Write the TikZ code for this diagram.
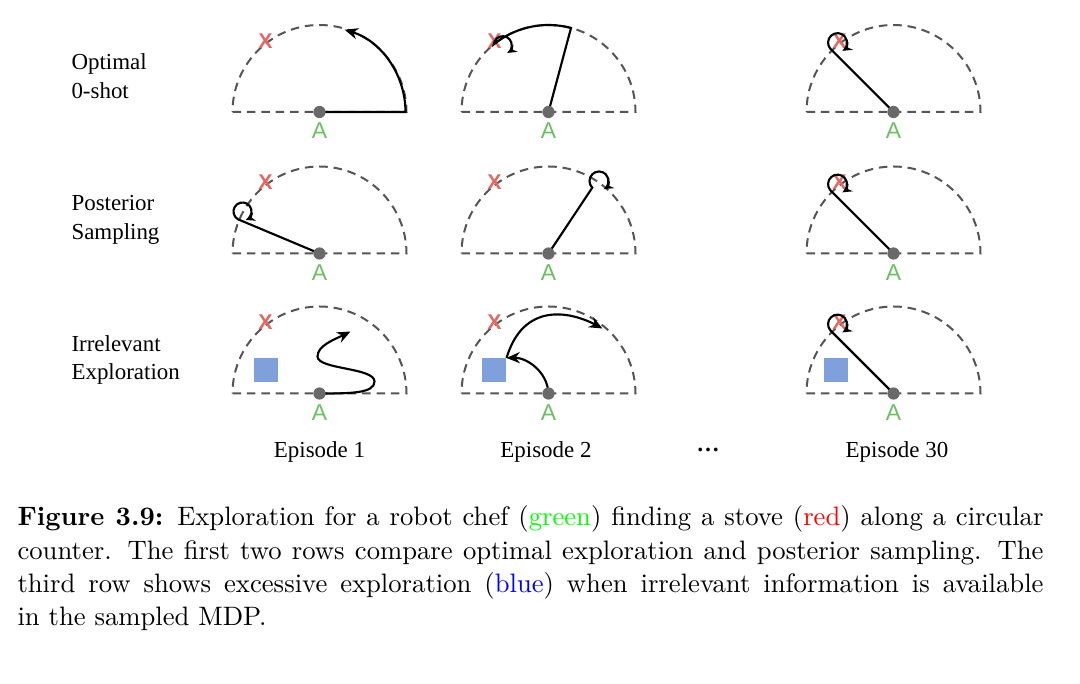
\documentclass[tikz,border=0pt]{standalone}
\usepackage{fontspec}
\usepackage{xcolor}
\usetikzlibrary{arrows.meta}
\newfontfamily\timesf{Liberation Serif}
\newfontfamily\arialf{Liberation Sans}
\definecolor{dashgrey}{RGB}{85,85,85}
\definecolor{dotgrey}{RGB}{105,105,105}
\definecolor{agreen}{RGB}{110,190,100}
\definecolor{xred}{RGB}{225,105,100}
\definecolor{sqblue}{RGB}{128,160,220}
\tikzset{
 rim/.style={draw=dashgrey, line width=0.75pt, dash pattern=on 3.2pt off 2.2pt},
 trail/.style={draw=black, line width=0.8pt, -{Stealth[length=5pt,width=4.2pt]}},
 looptrail/.style={draw=black, line width=0.8pt, -{Stealth[length=3.6pt,width=3.2pt]}},
 agent/.style={circle, fill=dotgrey, inner sep=0pt, minimum size=4.6pt},
 alabel/.style={font=\arialf\fontsize{8.6}{10}\selectfont, text=agreen, inner sep=0pt},
 xlabel/.style={font=\arialf\bfseries\fontsize{8}{10}\selectfont, text=xred, inner sep=0pt},
 crate/.style={fill=sqblue, minimum size=9pt, inner sep=0pt},
 rowlab/.style={font=\timesf\fontsize{8.6}{10.9}\selectfont, anchor=base west, inner sep=0pt},
 eplab/.style={font=\timesf\fontsize{8.6}{10.9}\selectfont, anchor=base, inner sep=0pt},
 capline/.style={anchor=base west, inner sep=0pt, font=\fontsize{10}{12.5}\selectfont},
}
\newcommand\panelbase[1]{%
 \draw[rim] (-87,0) -- (87,0) arc[start angle=0,end angle=180,radius=87];
 \node[xlabel] (x#1) at (-54,71) {X};
 \coordinate (a#1) at (0,0);
}
\newcommand\paneltop[1]{%
 \node[agent] (d#1) at (a#1) {};
 \node[alabel] (A#1) at (0,-19) {A};
}
\begin{document}
\begin{tikzpicture}[x=0.375pt,y=-0.375pt]
\useasboundingbox[fill=white] (0,0) rectangle (1080,684);

% row labels
\node[rowlab] (r1a) at (71,70) {Optimal};
\node[rowlab] (r1b) at (71,99) {0-shot};
\node[rowlab] (r2a) at (71,211) {Posterior};
\node[rowlab] (r2b) at (71,240) {Sampling};
\node[rowlab] (r3a) at (71,352) {Irrelevant};
\node[rowlab] (r3b) at (71,380) {Exploration};

% row 1
\begin{scope}[shift={(319.5,112)},yscale=-1]
 \panelbase{11}
 \draw[trail] (a11) -- (86,0) arc[start angle=0,end angle=73,radius=86];
 \paneltop{11}
\end{scope}
\begin{scope}[shift={(548.5,112)},yscale=-1]
 \panelbase{12}
 \coordinate (t12) at (75:87);
 \draw[looptrail] (a12) -- (t12) arc[start angle=75,end angle=129,radius=87]
   arc[start angle=175,end angle=-60,radius=9];
 \paneltop{12}
\end{scope}
\begin{scope}[shift={(893.5,112)},yscale=-1]
 \panelbase{13}
 \coordinate (t13) at (-63,63);
 \draw[looptrail] (a13) -- (t13) arc[start angle=222,end angle=-60,radius=9.5];
 \paneltop{13}
\end{scope}

% row 2
\begin{scope}[shift={(319.5,253.5)},yscale=-1]
 \panelbase{21}
 \coordinate (t21) at (-81.5,34.2);
 \draw[looptrail] (a21) -- (t21) arc[start angle=240,end angle=-70,radius=9];
 \paneltop{21}
\end{scope}
\begin{scope}[shift={(548.5,253.5)},yscale=-1]
 \panelbase{22}
 \coordinate (t22) at (43.8,65.8);
 \draw[looptrail] (a22) -- (t22) arc[start angle=225,end angle=-60,radius=9.5];
 \paneltop{22}
\end{scope}
\begin{scope}[shift={(893.5,253.5)},yscale=-1]
 \panelbase{23}
 \coordinate (t23) at (-63,63);
 \draw[looptrail] (a23) -- (t23) arc[start angle=222,end angle=-60,radius=9.5];
 \paneltop{23}
\end{scope}

% row 3
\begin{scope}[shift={(319.5,393.5)},yscale=-1]
 \panelbase{31}
 \node[crate] (sq31) at (-54,23) {};
 \coordinate (t31) at (31,62);
 \draw[trail] (a31) .. controls (30,0) and (55,0) .. (55,12)
   .. controls (55,26) and (-2,24) .. (-2,37)
   .. controls (-2,48) and (15,54) .. (t31);
 \paneltop{31}
\end{scope}
\begin{scope}[shift={(548.5,393.5)},yscale=-1]
 \panelbase{32}
 \node[crate] (sq32) at (-54.5,23) {};
 \coordinate (t32) at (54,65);
 \draw[trail] (a32) .. controls (-1,22) and (-22,36) .. (sq32.north east);
 \draw[trail] (sq32.north east) .. controls (-25,92) and (22,82) .. (t32);
 \paneltop{32}
\end{scope}
\begin{scope}[shift={(893.5,393.5)},yscale=-1]
 \panelbase{33}
 \node[crate] (sq33) at (-57.5,23) {};
 \coordinate (t33) at (-63,63);
 \draw[looptrail] (a33) -- (t33) arc[start angle=222,end angle=-60,radius=9.5];
 \paneltop{33}
\end{scope}

% episode labels
\node[eplab] (ep1) at (319.5,458) {Episode 1};
\node[eplab] (ep2) at (546,458) {Episode 2};
\node[eplab] (epd) at (708,458) {\raisebox{2.3pt}{\bfseries …}};
\node[eplab] (ep30) at (897,458) {Episode 30};

% caption
\node[capline] (c1) at (17,526) {\makebox[384.75pt][s]{\textbf{Figure 3.9:} Exploration for a robot chef (\textcolor{green}{green}) finding a stove (\textcolor{red}{red}) along a circular}};
\node[capline] (c2) at (17,559.5) {\makebox[384.75pt][s]{counter. The first two rows compare optimal exploration and posterior sampling. The}};
\node[capline] (c3) at (17,593) {\makebox[384.75pt][s]{third row shows excessive exploration (\textcolor{blue}{blue}) when irrelevant information is available}};
\node[capline] (c4) at (17,626) {in the sampled MDP.};
\end{tikzpicture}
\end{document}
